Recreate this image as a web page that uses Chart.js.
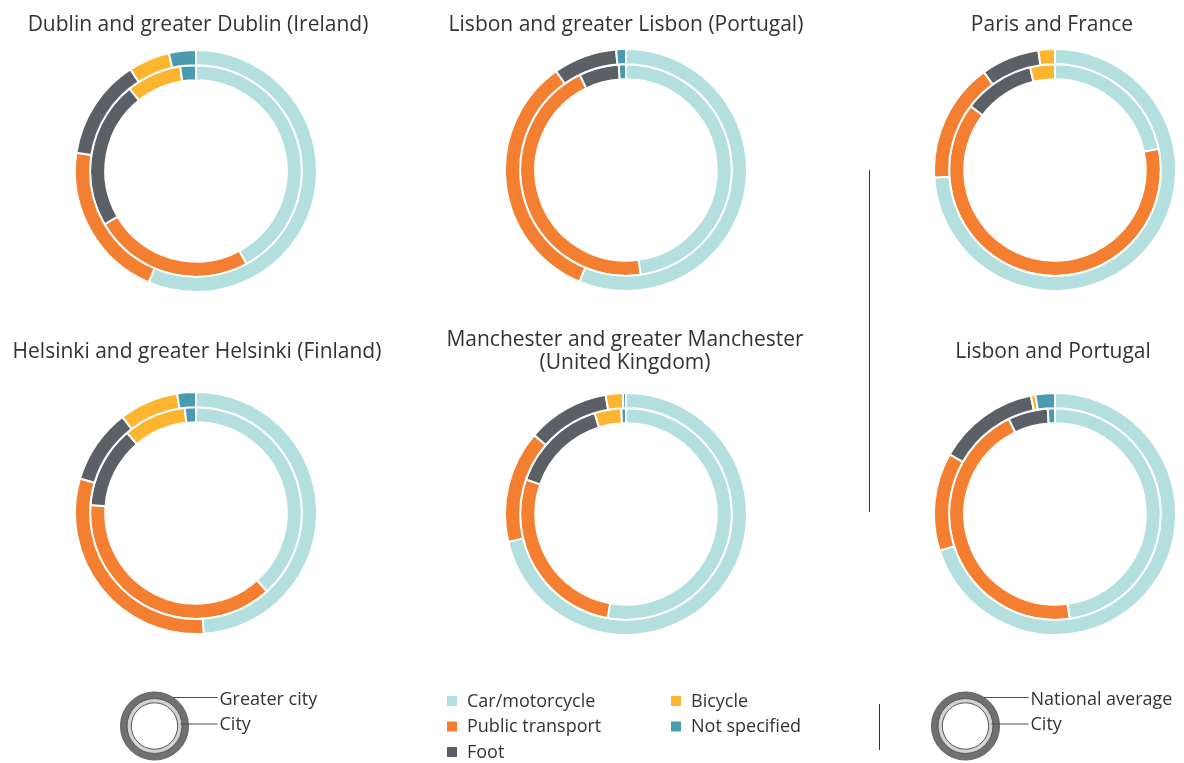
<!DOCTYPE html>
<html>
<head>
<meta charset="utf-8">
<script src="https://cdn.jsdelivr.net/npm/chart.js@4.4.1/dist/chart.umd.min.js"></script>
<style>
  html, body { margin: 0; padding: 0; background: #ffffff; }
  #wrap { position: relative; width: 1184px; height: 763px; overflow: hidden; background: #ffffff; }
  canvas.ring { position: absolute; }
  svg#overlay { position: absolute; left: 0; top: 0; }
  svg text { font-family: 'Open Sans', 'Noto Sans', sans-serif; fill: #333333; }
</style>
</head>
<body>
<div id="wrap">
  <canvas class="ring" id="c1" width="244" height="244"></canvas>
  <canvas class="ring" id="c2" width="244" height="244"></canvas>
  <canvas class="ring" id="c3" width="244" height="244"></canvas>
  <canvas class="ring" id="c4" width="244" height="244"></canvas>
  <canvas class="ring" id="c5" width="244" height="244"></canvas>
  <canvas class="ring" id="c6" width="244" height="244"></canvas>
  <svg id="overlay" width="1184" height="763" xmlns="http://www.w3.org/2000/svg">
    <g font-size="21" text-anchor="middle">
      <text x="198" y="31">Dublin and greater Dublin (Ireland)</text>
      <text x="626" y="31">Lisbon and greater Lisbon (Portugal)</text>
      <text x="1052" y="31">Paris and France</text>
      <text x="197" y="358">Helsinki and greater Helsinki (Finland)</text>
      <text x="625" y="346">Manchester and greater Manchester</text>
      <text x="625" y="369">(United Kingdom)</text>
      <text x="1053" y="358">Lisbon and Portugal</text>
    </g>
    <line x1="869.5" y1="170" x2="869.5" y2="512" stroke="#333" stroke-width="1"/>
    <line x1="879.5" y1="704" x2="879.5" y2="750" stroke="#333" stroke-width="1"/>
    <g id="legend" font-size="18"></g>
    <g id="icons"></g>
  </svg>
</div>
<script>
// ---- Data ----
const categories = ['Car/motorcycle', 'Public transport', 'Foot', 'Bicycle', 'Not specified'];
const colors = ['#b3dfdf', '#f47f31', '#5a6066', '#fdb52f', '#4a9bb0'];

const chartTitles = [
  'Dublin and greater Dublin (Ireland)',
  'Lisbon and greater Lisbon (Portugal)',
  'Paris and France',
  'Helsinki and greater Helsinki (Finland)',
  'Manchester and greater Manchester (United Kingdom)',
  'Lisbon and Portugal'
];

// outer ring = greater city / national average, inner ring = city
const dublinGreater   = [56.4, 21.0, 13.5, 5.5, 3.6];
const dublinCity      = [42.1, 24.5, 22.6, 8.4, 2.4];
const lisbonGreater   = [56.3, 33.9, 8.5, 0, 1.3];
const lisbonCity      = [47.8, 45.0, 6.1, 0, 1.1];
const franceNational  = [74.0, 16.0, 7.8, 2.2, 0];
const parisCity       = [21.8, 63.5, 10.9, 3.8, 0];
const helsinkiGreater = [49.0, 30.6, 10.0, 7.9, 2.5];
const helsinkiCity    = [38.3, 37.9, 12.5, 9.6, 1.7];
const manchesterGreater = [71.3, 15.0, 11.0, 2.3, 0.4];
const manchesterCity    = [52.8, 27.5, 14.9, 4.1, 0.7];
const portugalNational  = [70.1, 13.1, 13.6, 0.6, 2.6];

const panels = [
  { id: 'c1', cx: 196,  cy: 171, outer: dublinGreater,     inner: dublinCity },
  { id: 'c2', cx: 626,  cy: 170, outer: lisbonGreater,     inner: lisbonCity },
  { id: 'c3', cx: 1055, cy: 170, outer: franceNational,    inner: parisCity },
  { id: 'c4', cx: 196,  cy: 513, outer: helsinkiGreater,   inner: helsinkiCity },
  { id: 'c5', cx: 626,  cy: 514, outer: manchesterGreater, inner: manchesterCity },
  { id: 'c6', cx: 1055, cy: 514, outer: portugalNational,  inner: lisbonCity }
];

panels.forEach(p => {
  const el = document.getElementById(p.id);
  el.style.left = (p.cx - 122) + 'px';
  el.style.top = (p.cy - 122) + 'px';
  new Chart(el, {
    type: 'doughnut',
    data: {
      labels: categories,
      datasets: [
        { data: p.outer, backgroundColor: colors, borderColor: '#ffffff', borderWidth: 2 },
        { data: p.inner, backgroundColor: colors, borderColor: '#ffffff', borderWidth: 2 }
      ]
    },
    options: {
      responsive: false,
      animation: false,
      cutout: '75%',
      layout: { padding: 0 },
      plugins: { legend: { display: false }, tooltip: { enabled: false }, title: { display: false } }
    }
  });
});

// ---- Legend (category colours) ----
const NS = 'http://www.w3.org/2000/svg';
const legendG = document.getElementById('legend');
const legendPos = [
  { x: 447, y: 706.5 }, { x: 447, y: 732 }, { x: 447, y: 757.5 },
  { x: 671, y: 706.5 }, { x: 671, y: 732 }
];
categories.forEach((c, i) => {
  const pos = legendPos[i];
  const r = document.createElementNS(NS, 'rect');
  r.setAttribute('x', pos.x); r.setAttribute('y', pos.y - 10.5);
  r.setAttribute('width', 10); r.setAttribute('height', 10);
  r.setAttribute('fill', colors[i]);
  legendG.appendChild(r);
  const t = document.createElementNS(NS, 'text');
  t.setAttribute('x', pos.x + 20); t.setAttribute('y', pos.y);
  t.textContent = c;
  legendG.appendChild(t);
});

// ---- Ring key icons ----
const iconsG = document.getElementById('icons');
function ringIcon(cx, cy, outerLabel, innerLabel) {
  const parts = [
    { r: 30.8, sw: 6.6, stroke: '#707070', fill: 'none' },
    { r: 25.3, sw: 4.2, stroke: '#d2d2d2', fill: '#ffffff' },
    { r: 34.1, sw: 0.8, stroke: '#555555', fill: 'none' },
    { r: 27.5, sw: 0.9, stroke: '#444444', fill: 'none' },
    { r: 23.2, sw: 0.9, stroke: '#444444', fill: 'none' }
  ];
  parts.forEach(pt => {
    const c = document.createElementNS(NS, 'circle');
    c.setAttribute('cx', cx); c.setAttribute('cy', cy); c.setAttribute('r', pt.r);
    c.setAttribute('fill', pt.fill); c.setAttribute('stroke', pt.stroke);
    c.setAttribute('stroke-width', pt.sw);
    iconsG.appendChild(c);
  });
  const lines = [
    { y: cy - 28.5, x1: cx + Math.sqrt(34 * 34 - 28.5 * 28.5), label: outerLabel, ty: cy - 21 },
    { y: cy - 2,    x1: cx + 26, label: innerLabel, ty: cy + 4 }
  ];
  lines.forEach(l => {
    const ln = document.createElementNS(NS, 'line');
    ln.setAttribute('x1', l.x1); ln.setAttribute('x2', cx + 63);
    ln.setAttribute('y1', l.y); ln.setAttribute('y2', l.y);
    ln.setAttribute('stroke', '#4a4a4a'); ln.setAttribute('stroke-width', 1);
    iconsG.appendChild(ln);
    const t = document.createElementNS(NS, 'text');
    t.setAttribute('x', cx + 65); t.setAttribute('y', l.ty);
    t.setAttribute('font-size', 18);
    t.textContent = l.label;
    iconsG.appendChild(t);
  });
}
ringIcon(154.5, 726, 'Greater city', 'City');
ringIcon(965.5, 726, 'National average', 'City');
</script>
</body>
</html>
